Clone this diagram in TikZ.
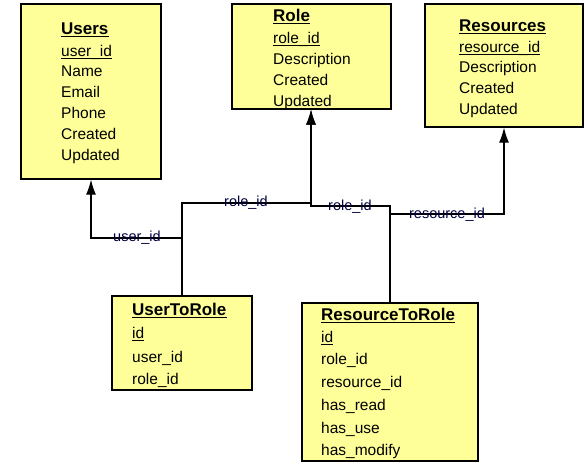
\documentclass[tikz,border=0pt]{standalone}
\usepackage{fontspec}
\setmainfont{Liberation Sans}
\usetikzlibrary{arrows.meta}
\definecolor{boxyellow}{RGB}{255,255,153}
\tikzset{
  tbl/.style={draw=black, line width=1.3pt, fill=boxyellow, inner sep=0pt},
  ttl/.style={anchor=base west, inner sep=0pt, font=\fontsize{17}{19}\selectfont\bfseries},
  fld/.style={anchor=base west, inner sep=0pt, font=\fontsize{15.5}{17}\selectfont},
  ul/.style={line width=1pt},
  conn/.style={line width=1.1pt},
  arr/.style={conn, -{Latex[length=15pt,width=10pt]}},
  lbl/.style={inner sep=0pt, font=\fontsize{14.5}{16}\selectfont, text=black!75!blue}
}
\newcommand\ulnode[1]{\draw[ul] ([yshift=-2pt]#1.base west) -- ([yshift=-2pt]#1.base east);}
\begin{document}
\begin{tikzpicture}[x=1pt,y=-1pt]
\useasboundingbox (0,0) rectangle (588,471);
% tables
\path[tbl] (21,4) rectangle (161,179);
\path[tbl] (232,4) rectangle (391,109);
\path[tbl] (425,4) rectangle (583,127);
\path[tbl] (112,296) rectangle (252,390);
\path[tbl] (302,303) rectangle (478,461);
\node (users) at (91,179) [inner sep=0pt] {};
\node (role) at (311,109) [inner sep=0pt] {};
\node (res) at (504,127) [inner sep=0pt] {};
\node (utr) at (182,296) [inner sep=0pt] {};
\node (rtr) at (390,303) [inner sep=0pt] {};
% Users
\node[ttl] (u0) at (61,34) {Users}; \ulnode{u0}
\node[fld] (u1) at (61,56) {user\_id}; \ulnode{u1}
\node[fld] (u2) at (61,76) {Name};
\node[fld] (u3) at (61,97) {Email};
\node[fld] (u4) at (61,118) {Phone};
\node[fld] (u5) at (61,139) {Created};
\node[fld] (u6) at (61,160) {Updated};
% Role
\node[ttl] (r0) at (273,21) {Role}; \ulnode{r0}
\node[fld] (r1) at (273,43) {role\_id}; \ulnode{r1}
\node[fld] (r2) at (273,64) {Description};
\node[fld] (r3) at (273,85) {Created};
\node[fld] (r4) at (273,106) {Updated};
% Resources
\node[ttl] (s0) at (459,31) {Resources}; \ulnode{s0}
\node[fld] (s1) at (459,52) {resource\_id}; \ulnode{s1}
\node[fld] (s2) at (459,72) {Description};
\node[fld] (s3) at (459,93) {Created};
\node[fld] (s4) at (459,114) {Updated};
% UserToRole
\node[ttl] (t0) at (132,315) {UserToRole}; \ulnode{t0}
\node[fld] (t1) at (132,338) {id}; \ulnode{t1}
\node[fld] (t2) at (132,362) {user\_id};
\node[fld] (t3) at (132,384) {role\_id};
% ResourceToRole
\node[ttl] (q0) at (321,320) {ResourceToRole}; \ulnode{q0}
\node[fld] (q1) at (321,342) {id}; \ulnode{q1}
\node[fld] (q2) at (321,364) {role\_id};
\node[fld] (q3) at (321,387) {resource\_id};
\node[fld] (q4) at (321,410) {has\_read};
\node[fld] (q5) at (321,433) {has\_use};
\node[fld] (q6) at (321,455) {has\_modify};
% connectors
\coordinate (j1) at (182,238);
\coordinate (j2) at (182,203);
\coordinate (j3) at (390,206);
\coordinate (j4) at (390,214);
\draw[arr] (utr) -- (j1) -- (users |- j1) -- (users);
\draw[arr] (utr) -- (j2) -- (role |- j2) -- (role);
\draw[arr] (rtr) -- (j3) -- (role |- j3) -- (role);
\draw[arr] (rtr) -- (j4) -- (res |- j4) -- (res);
% labels
\node[lbl] (l1) at (137,238) {user\_id};
\node[lbl] (l2) at (246,203) {role\_id};
\node[lbl] (l3) at (350,207) {role\_id};
\node[lbl] (l4) at (447,215) {resource\_id};
\end{tikzpicture}
\end{document}
